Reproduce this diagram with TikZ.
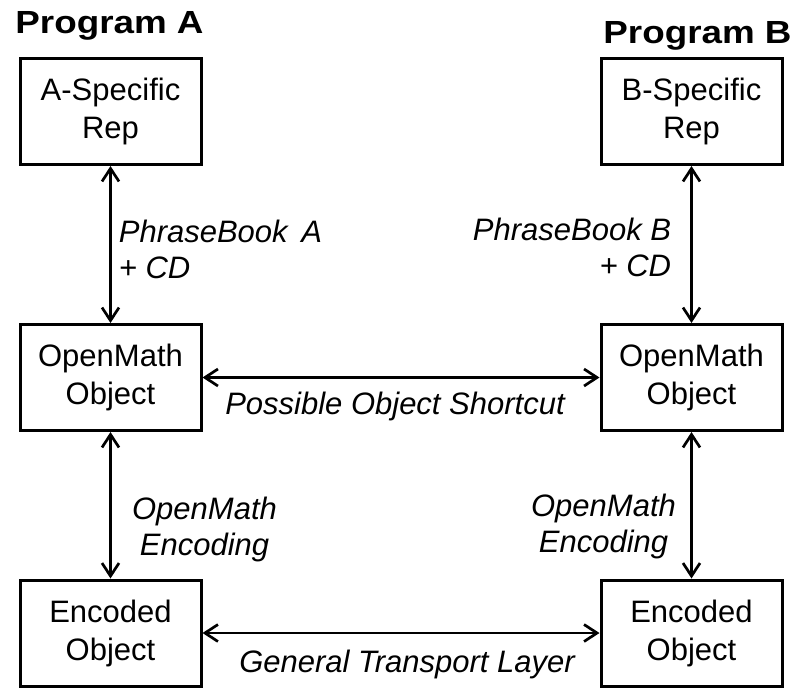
\documentclass[tikz,border=0pt]{standalone}
\usepackage{fontspec}
\setmainfont{Liberation Sans}
\usetikzlibrary{arrows.meta}
\begin{document}
\begin{tikzpicture}[x=1pt,y=-1pt,
  box/.style={draw,line width=3pt,minimum width=181pt,minimum height=106pt,
    align=center,inner sep=0pt,font=\fontsize{31}{38}\selectfont},
  conn/.style={line width=2.7pt,
    {Straight Barb[length=13pt,width=17pt,line width=2.7pt]}-{Straight Barb[length=13pt,width=17pt,line width=2.7pt]}},
  lbl/.style={inner sep=0pt,font=\fontsize{31}{36}\selectfont\itshape},
  title/.style={inner sep=0pt,font=\fontsize{32}{38}\selectfont\bfseries}]
\useasboundingbox (0,0) rectangle (796,689);
\fill[white] (0,0) rectangle (796,689);
% titles
\node[title,anchor=base] (ta) at (109.5,33) {\scalebox{1.15}[1]{Program A}};
\node[title,anchor=base] (tb) at (697.5,43) {\scalebox{1.15}[1]{Program B}};
% boxes
\node[box] (a1) at (110.5,111.5) {A-Specific\\Rep};
\node[box] (a2) at (110.5,377.5) {OpenMath\\Object};
\node[box] (a3) at (110.5,633) {Encoded\\Object};
\node[box] (b1) at (691.5,111.5) {B-Specific\\Rep};
\node[box] (b2) at (691.5,377.5) {OpenMath\\Object};
\node[box] (b3) at (691.5,633) {Encoded\\Object};
% connectors
\draw[conn] (a1) -- node[lbl,align=left,anchor=west,xshift=7pt,yshift=-5pt] (la1) {PhraseBook\, A\\+ CD} (a2);
\draw[conn] (a2) -- node[lbl,align=center,xshift=94pt,yshift=-24pt] (la2) {OpenMath\\Encoding} (a3);
\draw[conn] (b1) -- node[lbl,align=right,anchor=east,xshift=-19pt,yshift=-3pt] (lb1) {PhraseBook B\\+ CD} (b2);
\draw[conn] (b2) -- node[lbl,align=center,xshift=-88pt,yshift=-21pt] (lb2) {OpenMath\\Encoding} (b3);
\draw[conn] (a2) -- node[lbl,anchor=base,xshift=-6pt,yshift=-37pt] (lh1) {Possible Object Shortcut} (b2);
\draw[conn] (a3) -- node[lbl,anchor=base,xshift=6pt,yshift=-39pt] (lh2) {General Transport Layer} (b3);
\end{tikzpicture}
\end{document}
